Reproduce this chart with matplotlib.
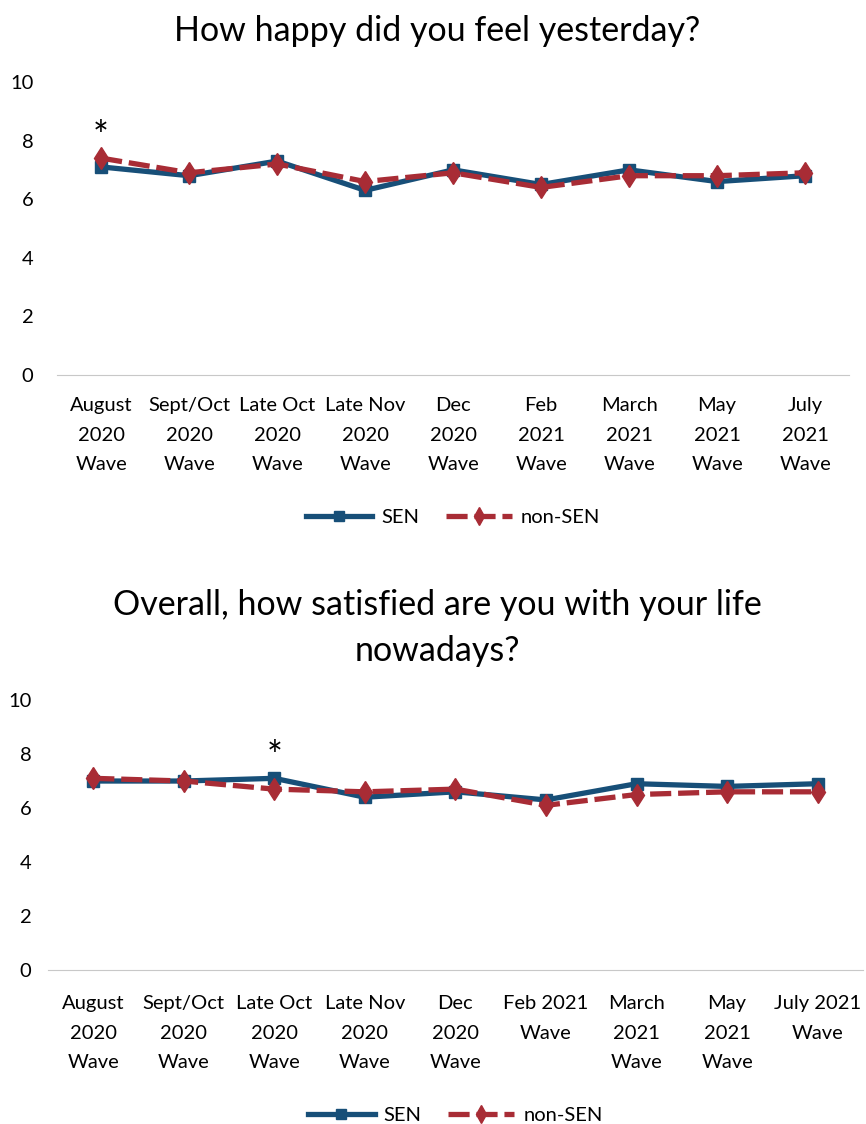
import matplotlib
matplotlib.use("Agg")
import matplotlib.pyplot as plt

plt.rcParams['font.family'] = ['Lato', 'DejaVu Sans']

labels_top = ["August\n2020\nWave", "Sept/Oct\n2020\nWave", "Late Oct\n2020\nWave",
              "Late Nov\n2020\nWave", "Dec\n2020\nWave", "Feb\n2021\nWave",
              "March\n2021\nWave", "May\n2021\nWave", "July\n2021\nWave"]
labels_bot = ["August\n2020\nWave", "Sept/Oct\n2020\nWave", "Late Oct\n2020\nWave",
              "Late Nov\n2020\nWave", "Dec\n2020\nWave", "Feb 2021\nWave\n",
              "March\n2021\nWave", "May\n2021\nWave", "July 2021\nWave\n"]

happy_sen = [7.1, 6.8, 7.3, 6.3, 7.0, 6.5, 7.0, 6.6, 6.8]
happy_non = [7.4, 6.9, 7.2, 6.6, 6.9, 6.4, 6.8, 6.8, 6.9]
life_sen = [7.0, 7.0, 7.1, 6.4, 6.6, 6.3, 6.9, 6.8, 6.9]
life_non = [7.1, 7.0, 6.7, 6.6, 6.7, 6.1, 6.5, 6.6, 6.6]

blue = '#174f78'
red = '#a82c35'

fig = plt.figure(figsize=(8.66, 11.24), dpi=100)


def draw(ax, labels, sen, non, star_idx, star_y, title, title_y, leg_y, ypad, lpad):
    x = range(len(labels))
    ax.plot(x, sen, color=blue, lw=3.8, marker='s', ms=9, label='SEN', zorder=3)
    ax.plot(x, non, color=red, lw=3.8, ls=(0, (4.0, 1.3)), marker='d', ms=11.5,
            label='non-SEN', zorder=4)
    ax.set_ylim(0, 10)
    ax.set_xlim(-0.5, len(labels) - 0.5)
    ax.set_yticks([0, 2, 4, 6, 8, 10])
    ax.set_xticks(list(x))
    ax.set_xticklabels(labels, fontsize=14.5, linespacing=1.9)
    ax.tick_params(axis='both', length=0, labelsize=14.5)
    ax.tick_params(axis='x', pad=lpad)
    ax.tick_params(axis='y', pad=ypad)
    for s in ['top', 'right', 'left']:
        ax.spines[s].set_visible(False)
    ax.spines['bottom'].set_color('#c8c8c8')
    ax.text(star_idx, star_y, '*', ha='center', va='center', fontsize=27)
    fig.text(0.505, title_y, title, ha='center', va='top', fontsize=24.5, linespacing=1.55)
    ax.legend(loc='center', bbox_to_anchor=(0.5, leg_y), ncol=2, frameon=False,
              fontsize=14.5, handlelength=3.3, columnspacing=1.3, handletextpad=0.45,
              markerscale=0.8)


ax1 = fig.add_axes([0.066, 0.6664, 0.9145, 0.2607])
draw(ax1, labels_top, happy_sen, happy_non, 0, 8.1,
     "How happy did you feel yesterday?", 0.987, -0.485, 17, 16)

ax2 = fig.add_axes([0.0554, 0.137, 0.941, 0.2402])
draw(ax2, labels_bot, life_sen, life_non, 2, 7.85,
     "Overall, how satisfied are you with your life\nnowadays?", 0.476, -0.54, 12, 18)

fig.savefig('out.png', dpi=100)
